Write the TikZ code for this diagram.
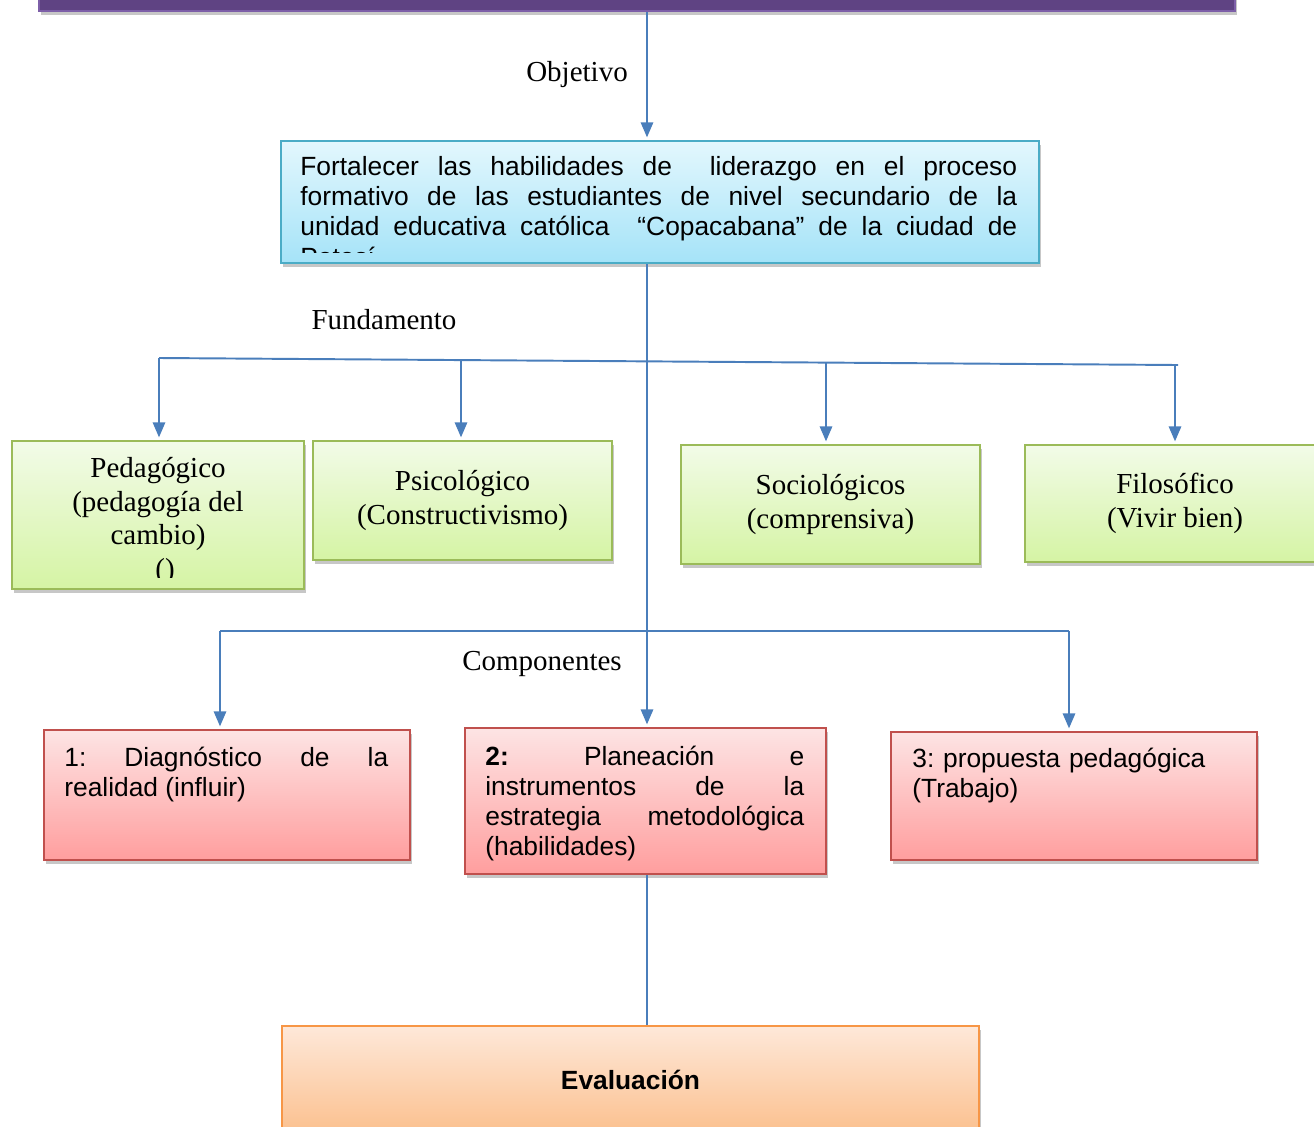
\documentclass[tikz,border=0pt]{standalone}
\usepackage{fontspec}
\setmainfont{Liberation Serif}
\setsansfont{Liberation Sans}
\usetikzlibrary{arrows.meta, calc, positioning, shadows}
\definecolor{Wire}{HTML}{4A7EBB}
\definecolor{BarFill}{HTML}{5F4383}
\definecolor{BarLine}{HTML}{7D5FA8}
\definecolor{GoalTop}{HTML}{E3F7FD}
\definecolor{GoalBot}{HTML}{A5E3F8}
\definecolor{GoalLine}{HTML}{4BACC6}
\definecolor{BaseTop}{HTML}{F2FBE8}
\definecolor{BaseBot}{HTML}{D5F4A4}
\definecolor{BaseLine}{HTML}{9BBB59}
\definecolor{PartTop}{HTML}{FDE4E4}
\definecolor{PartBot}{HTML}{FF9E9E}
\definecolor{PartLine}{HTML}{C0504D}
\definecolor{EvalTop}{HTML}{FEE8D9}
\definecolor{EvalBot}{HTML}{FBC08E}
\definecolor{EvalLine}{HTML}{F79646}
\tikzset{
  flow/.style={-{Triangle[width=7pt,length=8.5pt]}, line width=1.1pt, color=Wire, shorten >=1.5pt},
  wire/.style={line width=1.1pt, color=Wire},
  tag/.style={font=\fontsize{16.5}{19.3}\selectfont, inner sep=0pt},
  panel/.style={rectangle, line width=1.2pt, inner sep=0pt, anchor=north west,
    drop shadow={shadow xshift=1pt, shadow yshift=-2.5pt, opacity=0.22, fill=black}},
  titlebar/.style={panel, draw=BarLine, fill=BarFill, anchor=south west},
  goalbox/.style={panel, draw=GoalLine, top color=GoalTop, bottom color=GoalBot},
  basebox/.style={panel, draw=BaseLine, top color=BaseTop, bottom color=BaseBot,
    font=\fontsize{16.5}{19.3}\selectfont, align=center},
  partbox/.style={panel, draw=PartLine, top color=PartTop, bottom color=PartBot},
  evalbox/.style={panel, draw=EvalLine, top color=EvalTop, bottom color=EvalBot,
    font=\sffamily\fontsize{15}{17.2}\selectfont},
  prose/.style={font=\sffamily\fontsize{15}{17.2}\selectfont\frenchspacing, inner sep=0pt, anchor=north west,
    align=justify, execute at begin node={\tolerance=10000\hyphenpenalty=10000}},
}
\begin{document}
\begin{tikzpicture}[x=0.02cm, y=-0.02cm]
  \useasboundingbox (0,0) rectangle (1314,1126);
  \clip (0,0) rectangle (1314,1126);

  % Title bar and objective
  \node[titlebar, minimum width=23.92cm, minimum height=1.2cm] (bar) at (38,12) {};
  \coordinate (spine) at (647,0);
  \node[tag] (objlab) at (577,75) {Objetivo};
  \node[goalbox, minimum width=15.16cm, minimum height=2.44cm] (obj) at (280,140) {};
  \begin{scope}
    \clip (obj.north west) rectangle ([yshift=0.24cm]obj.south east);
    \node[prose, text width=14.34cm] (objt) at ([xshift=0.4cm, yshift=-0.32cm]obj.north west)
      {Fortalecer las habilidades de\ \ liderazgo en el proceso\linebreak
       formativo de las estudiantes de nivel secundario de la\linebreak
       unidad educativa católica\ \ “Copacabana” de la ciudad de\linebreak
       Potosí};
  \end{scope}
  \draw[flow] (spine |- bar.south) -- (spine |- obj.north);

  % Fundamentos
  \node[tag] (funlab) at (384,320) {Fundamento};
  \node[basebox, minimum width=5.84cm, minimum height=2.96cm] (ped) at (11,440) {};
  \begin{scope}
    \clip (ped.north west) rectangle ([yshift=0.25cm]ped.south east);
    \node[tag, align=center] (pedt) at ([yshift=-0.12cm]ped.center)
      {Pedagógico\\(pedagogía del\\cambio)\\\hspace*{0.28cm}()};
  \end{scope}
  \node[basebox, minimum width=5.98cm, minimum height=2.38cm] (psi) at (312,440)
    {Psicológico\\(Constructivismo)};
  \node[basebox, minimum width=5.98cm, minimum height=2.38cm] (soc) at (680,444)
    {Sociológicos\\(comprensiva)};
  \node[basebox, minimum width=6.0cm, minimum height=2.34cm] (fil) at (1024,444)
    {Filosófico\\(Vivir bien)};

  \coordinate (fl) at (159,358);
  \coordinate (fr) at (1178,365);
  \coordinate (f1) at (159,358);
  \coordinate (f2) at (461,360);
  \coordinate (f3) at (826,362.5);
  \coordinate (f4) at (1175,365);
  \draw[wire] (fl) -- (fr);
  \foreach \b/\t in {f1/ped, f2/psi, f3/soc, f4/fil}{
    \draw[flow] (\b) -- (\b |- \t.north);
  }

  % Componentes
  \node[tag] (comlab) at (542,664) {Componentes};
  \node[partbox, minimum width=7.32cm, minimum height=2.6cm] (c1) at (43,729) {};
  \node[partbox, minimum width=7.22cm, minimum height=2.92cm] (c2) at (464,727) {};
  \node[partbox, minimum width=7.32cm, minimum height=2.56cm] (c3) at (890,731) {};
  \node[prose, text width=6.48cm] (c1t) at ([xshift=0.42cm, yshift=-0.35cm]c1.north west)
    {1: Diagnóstico de la\linebreak realidad (influir)};
  \node[prose, text width=6.38cm] (c2t) at ([xshift=0.42cm, yshift=-0.37cm]c2.north west)
    {\textbf{2:} Planeación e\linebreak instrumentos de la\linebreak
     estrategia metodológica\linebreak (habilidades)};
  \node[prose, text width=6.48cm, align=left] (c3t) at ([xshift=0.44cm, yshift=-0.33cm]c3.north west)
    {3: propuesta pedagógica\\(Trabajo)};

  \coordinate (cl) at (220,631);
  \coordinate (cr) at (1069,631);
  \draw[wire] (cl) -- (cr);
  \draw[flow] (cl) -- (cl |- c1.north);
  \draw[flow] (cr) -- (cr |- c3.north);
  \draw[flow] (spine |- obj.south) -- (spine |- c2.north);

  % Evaluacion
  \node[evalbox, minimum width=13.94cm, minimum height=2.16cm] (eva) at (281,1025)
    {\textbf{Evaluación}};
  \draw[wire] (spine |- c2.south) -- (spine |- eva.north);
\end{tikzpicture}
\end{document}
